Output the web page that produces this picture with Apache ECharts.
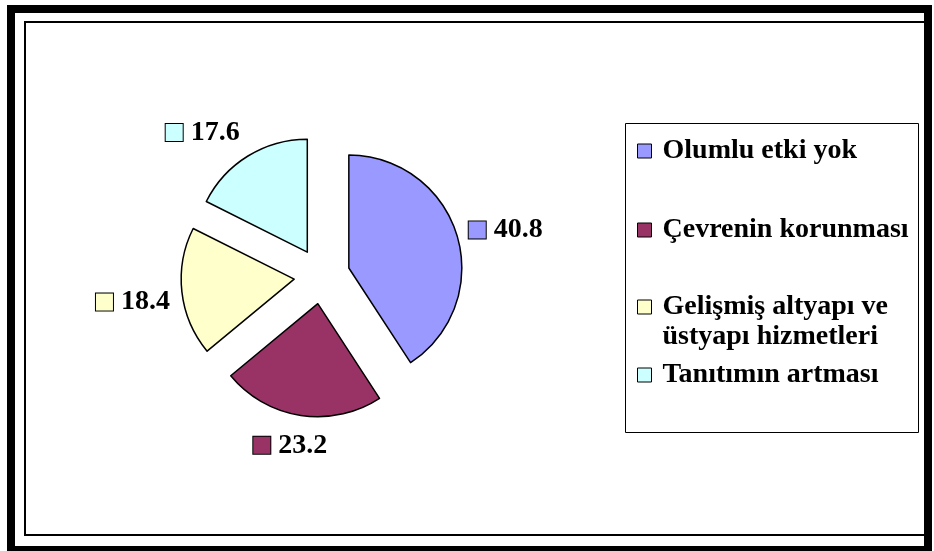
<!DOCTYPE html>
<html>
<head>
<meta charset="utf-8">
<script src="https://cdn.jsdelivr.net/npm/echarts@6/dist/echarts.min.js"></script>
<style>
  html, body { margin: 0; padding: 0; background: #fff; }
  #chart { width: 934px; height: 551px; }
</style>
</head>
<body>
<div id="chart"></div>
<script>
// categories and values
const categories = [
  'Olumlu etki yok',
  'Çevrenin korunması',
  'Gelişmiş altyapı ve\nüstyapı hizmetleri',
  'Tanıtımın artması'
];
const values = [40.8, 23.2, 18.4, 17.6];
const colors = ['#9999FF', '#993366', '#FFFFCC', '#CCFFFF'];

const FONT = '"Liberation Serif", "Times New Roman", serif';

// small nudges so the value labels sit where the original placed them
const labelNudge = [[-3, -3], [33, 20], [3, 9], [2, -15]];

const chart = echarts.init(document.getElementById('chart'), null, { renderer: 'canvas' });

const legendText = { fontFamily: FONT, fontWeight: 'bold', fontSize: 28, lineHeight: 30, color: '#000' };

// one legend per entry so each line can sit where the original put it
const legendTops = [136, 215, 262, 360];
const legends = categories.map((name, i) => ({
  data: [name],
  orient: 'vertical',
  left: 637,
  top: legendTops[i],
  padding: 0,
  itemWidth: 14,
  itemHeight: 14,
  itemGap: 0,
  icon: 'rect',
  selectedMode: false,
  itemStyle: { borderColor: '#000', borderWidth: 1 },
  // multi-line entry: first line level with the square, like the original
  formatter: n => {
    const lines = n.split('\n').map(s => '{t|' + s + '}');
    return (lines.length > 1 ? '{e|}\n' : '') + lines.join('\n');
  },
  textStyle: Object.assign({}, legendText, {
    rich: {
      t: Object.assign({}, legendText, { padding: [0, 0, 0, 6] }),
      e: { height: 30, lineHeight: 30 }
    }
  })
}));

chart.setOption({
  animation: false,
  color: colors,
  graphic: [
    // outer thick frame
    { type: 'rect', shape: { x: 11, y: 9, width: 917, height: 541 },
      style: { fill: 'none', stroke: '#000', lineWidth: 8 }, z: 10 },
    // inner thin frame
    { type: 'rect', shape: { x: 25, y: 22, width: 901, height: 513 },
      style: { fill: 'none', stroke: '#000', lineWidth: 2 }, z: 10 },
    // legend box
    { type: 'rect', shape: { x: 625.5, y: 123.5, width: 293, height: 309 },
      style: { fill: 'none', stroke: '#000', lineWidth: 1 }, z: 10 }
  ],
  legend: legends,
  series: [{
    type: 'pie',
    center: [322, 276],
    radius: 113,
    startAngle: 90,
    clockwise: true,
    selectedMode: 'multiple',
    selectedOffset: 28,
    avoidLabelOverlap: false,
    itemStyle: { borderColor: '#000', borderWidth: 1.5 },
    select: { itemStyle: { borderColor: '#000', borderWidth: 1.5 } },
    emphasis: { disabled: true },
    labelLine: { show: false, length: 10, length2: 0 },
    labelLayout: p => ({ dx: labelNudge[p.dataIndex][0], dy: labelNudge[p.dataIndex][1] }),
    label: {
      show: true,
      position: 'outside',
      color: '#000',
      fontFamily: FONT,
      fontWeight: 'bold',
      fontSize: 28,
      formatter: p => '{sq' + p.dataIndex + '|}{v|' + p.value.toFixed(1) + '}',
      rich: Object.assign({
        v: { fontFamily: FONT, fontWeight: 'bold', fontSize: 28, color: '#000', padding: [0, 0, 0, 8] }
      }, ...colors.map((c, i) => ({
        ['sq' + i]: { width: 17, height: 17, backgroundColor: c, borderColor: '#000', borderWidth: 1 }
      })))
    },
    data: categories.map((name, i) => ({ name, value: values[i], selected: true }))
  }]
});
</script>
</body>
</html>
